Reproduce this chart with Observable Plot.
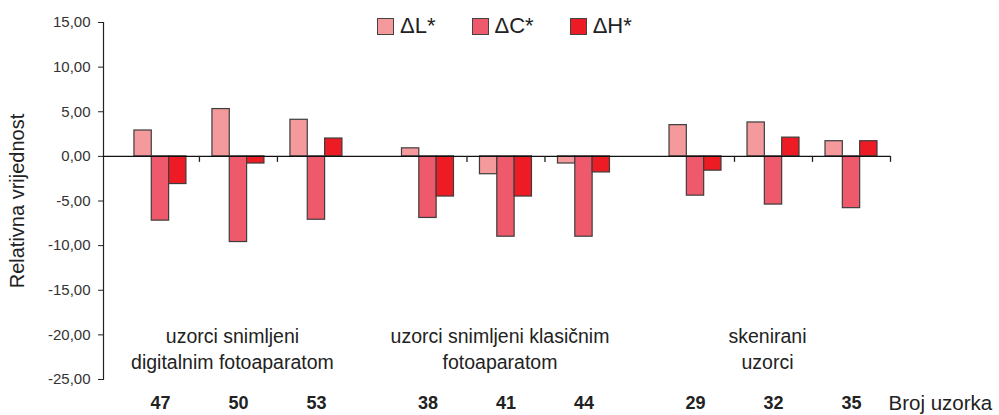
<!DOCTYPE html>
<html>
<head>
<meta charset="utf-8">
<script src="https://cdn.jsdelivr.net/npm/d3@7"></script>
<script src="https://cdn.jsdelivr.net/npm/@observablehq/plot@0.6"></script>
<style>
  body { margin: 0; background: #fff; font-family: "Liberation Sans", Arial, Helvetica, sans-serif; }
  #chart { position: relative; width: 999px; height: 415px; }
  #legend { position: absolute; top: 13px; left: 377px; display: flex; align-items: center; gap: 36px; font-size: 22px; color: #222; }
  #legend .item { display: flex; align-items: center; gap: 6px; }
  #legend .sw { width: 15px; height: 15px; border: 1px solid #444; }
</style>
</head>
<body>
<div id="chart"></div>
<script>
// ---- data ----
const samples = ["47", "50", "53", "38", "41", "44", "29", "32", "35"];
const sampleGroup = [0, 0, 0, 1, 1, 1, 2, 2, 2];
const groups = ["uzorci snimljeni\ndigitalnim fotoaparatom", "uzorci snimljeni klasičnim\nfotoaparatom", "skenirani\nuzorci"];
const series = ["ΔL*", "ΔC*", "ΔH*"];
const dL = [2.9, 5.3, 4.1, 0.9, -2.0, -0.8, 3.5, 3.8, 1.7];
const dC = [-7.2, -9.6, -7.1, -6.9, -9.0, -9.0, -4.4, -5.4, -5.8];
const dH = [-3.1, -0.8, 2.0, -4.5, -4.5, -1.8, -1.6, 2.1, 1.7];
const yTicks = [15, 10, 5, 0, -5, -10, -15, -20, -25];
const colors = ["#f49a9c", "#ee5a6b", "#ed1c24"];
const xLabel = "Broj uzorka";
const yLabel = "Relativna vrijednost";

// ---- layout helpers (slot units) ----
const GAP = 0.43; // extra spacing between sample groups
const indexInGroup = samples.map((_, k) => k - sampleGroup.indexOf(sampleGroup[k]));
const slot = (k) => sampleGroup[k] * (3 + GAP) + indexInGroup[k];
const barW = 2 / 9;

const values = [dL, dC, dH];
const bars = [];
samples.forEach((s, k) => {
  series.forEach((name, j) => {
    bars.push({sample: s, k, series: name, j, value: values[j][k]});
  });
});

// category boundary ticks: after each sample except where a group gap follows
const tickPos = samples
  .map((_, k) => k)
  .filter((k) => k === samples.length - 1 || sampleGroup[k + 1] === sampleGroup[k])
  .map((k) => slot(k) + 0.5);

const fmt = (d) => d.toFixed(2).replace(".", ",");

const groupMid = groups.map((_, g) => slot(sampleGroup.indexOf(g) + 1));

const chart = Plot.plot({
  width: 999,
  height: 415,
  marginLeft: 103,
  marginRight: 109,
  marginTop: 22,
  marginBottom: 36,
  style: {fontFamily: "'Liberation Sans', Arial, Helvetica, sans-serif", background: "#fff", color: "#222", overflow: "visible"},
  x: {type: "linear", domain: [slot(0) - 0.73, slot(samples.length - 1) + 0.5], axis: null},
  y: {domain: [-25, 15], axis: null},
  color: {domain: series, range: colors},
  marks: [
    Plot.frame({anchor: "left", stroke: "#222", strokeWidth: 1.2}),
    Plot.axisY({ticks: yTicks, tickFormat: fmt, tickSize: 5, tickPadding: 8, fontSize: 15, label: null, stroke: "#222", fill: "#333"}),
    Plot.rect(bars, {
      x1: (d) => slot(d.k) - 1 / 3 + d.j * barW,
      x2: (d) => slot(d.k) - 1 / 3 + (d.j + 1) * barW,
      y1: 0,
      y2: "value",
      fill: "series",
      stroke: "#3d3d3d",
      strokeWidth: 1.2
    }),
    Plot.ruleY([0], {stroke: "#111", strokeWidth: 1.3}),
    Plot.ruleX(tickPos, {x: (d) => d, y1: 0, y2: 0, insetBottom: -6, stroke: "#222", strokeWidth: 1.3}),
    Plot.text([yLabel], {text: (d) => d, frameAnchor: "left", rotate: -90, dx: -86, fontSize: 20, textAnchor: "middle", lineAnchor: "middle", fill: "#222"}),
    Plot.text(groups, {text: (d) => d, x: (d, g) => groupMid[g], frameAnchor: "bottom", dx: -6, dy: -32, fontSize: 19.5, lineHeight: 1.35, lineAnchor: "middle", fill: "#222"}),
    Plot.text(samples, {text: (d) => d, x: (d, k) => slot(k), frameAnchor: "bottom", dy: 24, fontSize: 18, fontWeight: "bold", lineAnchor: "middle", fill: "#222"}),
    Plot.text([xLabel], {text: (d) => d, frameAnchor: "bottom-right", textAnchor: "start", dx: -2, dy: 24, fontSize: 20.5, lineAnchor: "middle", fill: "#222"})
  ]
});

const container = document.getElementById("chart");
container.appendChild(chart);

const legend = document.createElement("div");
legend.id = "legend";
series.forEach((name, j) => {
  const item = document.createElement("div");
  item.className = "item";
  const sw = document.createElement("div");
  sw.className = "sw";
  sw.style.background = colors[j];
  const label = document.createElement("span");
  label.textContent = name;
  item.appendChild(sw);
  item.appendChild(label);
  legend.appendChild(item);
});
container.appendChild(legend);
</script>
</body>
</html>
